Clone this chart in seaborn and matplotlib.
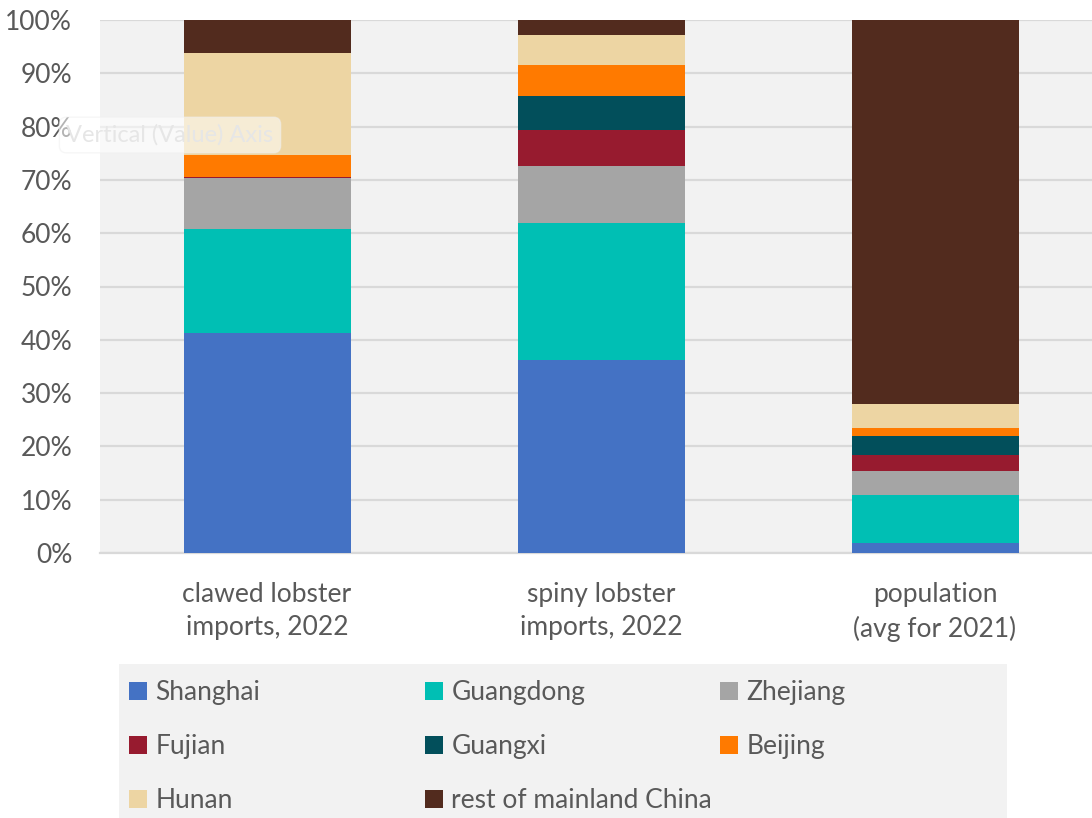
import numpy as np
import pandas as pd
import seaborn as sns
import matplotlib.pyplot as plt
from matplotlib.patches import Patch, Rectangle

sns.set_style("white")
plt.rcParams['font.family'] = ['Lato', 'DejaVu Sans']

# data (share of total, %)
categories = ["clawed lobster\nimports, 2022", "spiny lobster\nimports, 2022", "population\n(avg for 2021)"]
regions = ["Shanghai", "Guangdong", "Zhejiang", "Fujian", "Guangxi", "Beijing", "Hunan", "rest of mainland China"]
shanghai = [41.3, 36.2, 1.8]
guangdong = [19.4, 25.8, 9.0]
zhejiang = [9.6, 10.6, 4.6]
fujian = [0.3, 6.8, 3.0]
guangxi = [0.0, 6.4, 3.5]
beijing = [4.0, 5.8, 1.6]
hunan = [19.3, 5.5, 4.5]
rest = [6.1, 2.9, 72.0]
colors = ["#4472C4", "#00BFB4", "#A5A5A5", "#971B2F", "#024F5B", "#FF7A00", "#EDD5A3", "#522B1E"]

series = [shanghai, guangdong, zhejiang, fujian, guangxi, beijing, hunan, rest]
vals = np.array(series, dtype=float)
vals = vals / vals.sum(axis=0) * 100
cum = np.cumsum(vals, axis=0)

txt = "#595959"
grid = "#d9d9d9"
W, H = 1092, 818

fig = plt.figure(figsize=(10.92, 8.18), dpi=100)
ax = fig.add_axes([100 / W, 265 / H, 992 / W, 533 / H])
ax.set_facecolor("#f2f2f2")

# stacked bars: draw cumulative totals from the top down
for i in range(len(regions) - 1, -1, -1):
    df = pd.DataFrame({"cat": categories, "val": cum[i]})
    sns.barplot(data=df, x="cat", y="val", color=colors[i], width=0.5,
                saturation=1, linewidth=0, ax=ax, zorder=3)

ax.set_xlim(-0.5, 2 + 157 / 334)
ax.set_ylim(0, 100)
ax.set_yticks(np.arange(0, 101, 10))
ax.set_yticklabels([f"{v}%" for v in range(0, 101, 10)])
ax.yaxis.grid(True, color=grid, linewidth=1.6, zorder=0)
ax.set_axisbelow(True)
ax.set_xlabel("")
ax.set_ylabel("")
for s in ["top", "right", "left"]:
    ax.spines[s].set_visible(False)
ax.spines["bottom"].set_color(grid)
ax.spines["bottom"].set_linewidth(1.6)

ax.tick_params(axis="y", length=0, pad=20, labelsize=19, labelcolor=txt)
ax.tick_params(axis="x", which="major", length=0, pad=21, labelsize=19, labelcolor=txt)
ax.set_xticks([-0.5, 0.5, 1.5], minor=True)
ax.tick_params(axis="x", which="minor", length=7, width=1.6, color=grid)
for lab in ax.get_xticklabels():
    lab.set_linespacing(1.4)

# faded tooltip left over in the screenshot
fig.text(170 / W, 1 - 135 / H, "Vertical (Value) Axis", ha="center", va="center",
         fontsize=17, color="#e6e6e6",
         bbox=dict(boxstyle="round,pad=0.3", facecolor="white", edgecolor="#f0f0f0", alpha=0.55))

# legend: grey box with three fixed-width columns, filled row by row
fig.patches.append(Rectangle((119 / W, 0), 888 / W, 154 / H, transform=fig.transFigure,
                             facecolor="#f2f2f2", edgecolor="none", zorder=0))
col_x = [129, 425, 720]
for c, x in enumerate(col_x):
    idx = list(range(c, len(regions), 3))
    handles = [Patch(facecolor=colors[i], edgecolor="none") for i in idx]
    labels = [regions[i] for i in idx]
    leg = fig.legend(handles, labels, loc="upper left",
                     bbox_to_anchor=(x / W, 1 - 680 / H), frameon=False,
                     fontsize=19, labelcolor=txt, handlelength=0.7, handleheight=0.7,
                     handletextpad=0.3, labelspacing=1.1, borderaxespad=0, borderpad=0)

fig.savefig("out.png", dpi=100, facecolor="white")
